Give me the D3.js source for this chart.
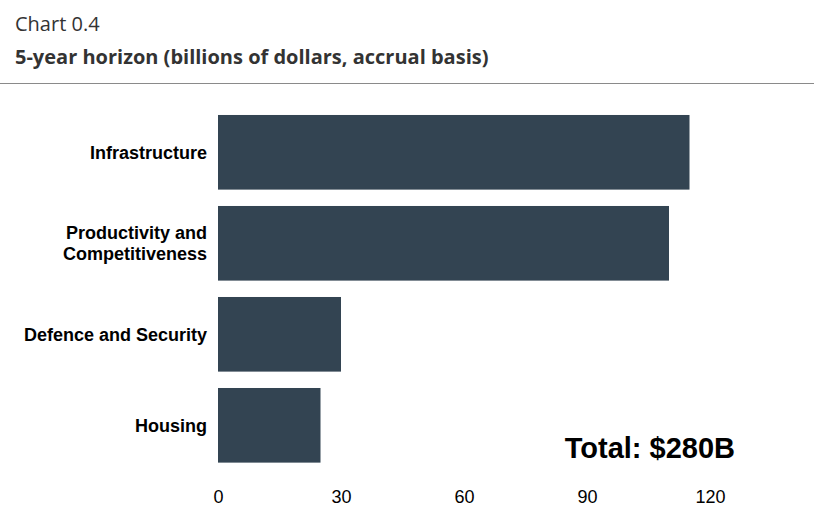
<!DOCTYPE html>
<html>
<head>
<meta charset="utf-8">
<script src="https://cdn.jsdelivr.net/npm/d3@7"></script>
<style>
  body { margin: 0; background: #fff; }
  .title { font-family: "Open Sans", sans-serif; }
</style>
</head>
<body>
<div id="chart"></div>
<script>
// Data
const categories = [["Infrastructure"], ["Productivity and", "Competitiveness"], ["Defence and Security"], ["Housing"]];
const values = [115, 110, 30, 25];
const tickValues = [0, 30, 60, 90, 120];
const totalLabel = "Total: $280B";

const width = 814, height = 520;

const svg = d3.select("#chart")
  .append("svg")
  .attr("width", width)
  .attr("height", height);

// Header
svg.append("text")
  .attr("class", "title")
  .attr("x", 15).attr("y", 31)
  .attr("font-size", 20)
  .attr("fill", "#333")
  .text("Chart 0.4");

svg.append("text")
  .attr("class", "title")
  .attr("x", 15).attr("y", 64)
  .attr("font-size", 20)
  .attr("font-weight", "bold")
  .attr("fill", "#333")
  .text("5-year horizon (billions of dollars, accrual basis)");

svg.append("line")
  .attr("x1", 0).attr("x2", width)
  .attr("y1", 83.5).attr("y2", 83.5)
  .attr("stroke", "#8a8a8a")
  .attr("stroke-width", 1);

// Scales
const x = d3.scaleLinear()
  .domain([0, 120])
  .range([218, 710]);

const y = d3.scaleBand()
  .domain(d3.range(categories.length))
  .range([98.6, 479])
  .paddingInner(0.18)
  .paddingOuter(0.18);

// Bars
svg.selectAll(".bar")
  .data(values)
  .enter()
  .append("rect")
  .attr("class", "bar")
  .attr("x", x(0))
  .attr("y", (d, i) => y(i))
  .attr("width", d => x(d) - x(0))
  .attr("height", y.bandwidth())
  .attr("fill", "#334452");

// Category labels
const labels = svg.selectAll(".cat")
  .data(categories)
  .enter()
  .append("text")
  .attr("class", "cat")
  .attr("text-anchor", "end")
  .attr("font-family", "'Liberation Sans', Arial, sans-serif")
  .attr("font-weight", "bold")
  .attr("font-size", 18)
  .attr("fill", "#000");

labels.each(function(lines, i) {
  const cy = y(i) + y.bandwidth() / 2;
  const lh = 21;
  const start = cy - (lines.length - 1) * lh / 2;
  d3.select(this).selectAll("tspan")
    .data(lines)
    .enter()
    .append("tspan")
    .attr("x", 207)
    .attr("y", (d, j) => start + j * lh)
    .attr("dy", "0.35em")
    .text(d => d);
});

// X axis
const xAxis = svg.append("g")
  .attr("transform", "translate(0,487)")
  .call(d3.axisBottom(x).tickValues(tickValues).tickSize(0).tickPadding(0));
xAxis.select(".domain").remove();
xAxis.selectAll("text")
  .attr("font-family", "'Liberation Sans', Arial, sans-serif")
  .attr("font-size", 18)
  .attr("fill", "#000")
  .attr("dy", "0.9em");

// Total
svg.append("text")
  .attr("x", 735)
  .attr("y", 458)
  .attr("text-anchor", "end")
  .attr("font-family", "'Liberation Sans', Arial, sans-serif")
  .attr("font-weight", "bold")
  .attr("font-size", 29)
  .attr("fill", "#000")
  .text(totalLabel);
</script>
</body>
</html>
